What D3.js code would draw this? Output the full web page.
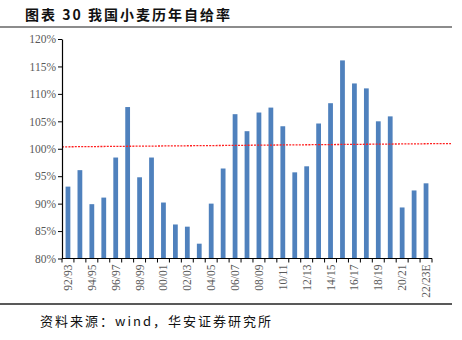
<!DOCTYPE html>
<html>
<head>
<meta charset="utf-8">
<script src="https://cdn.jsdelivr.net/npm/d3@7"></script>
<style>
  html, body { margin: 0; padding: 0; background: #fff; }
  svg { display: block; }
</style>
</head>
<body>
<svg id="chart" width="462" height="340"></svg>
<script>
// Wheat self-sufficiency ratio by marketing year (%)
const seasons = ["92/93","93/94","94/95","95/96","96/97","97/98","98/99","99/00","00/01","01/02",
  "02/03","03/04","04/05","05/06","06/07","07/08","08/09","09/10","10/11","11/12",
  "12/13","13/14","14/15","15/16","16/17","17/18","18/19","19/20","20/21","21/22","22/23E"];
const ratio = [93.1, 96.1, 89.9, 91.1, 98.4, 107.6, 94.8, 98.4, 90.2, 86.2,
  85.8, 82.7, 90.0, 96.4, 106.3, 103.2, 106.6, 107.5, 104.1, 95.7,
  96.8, 104.6, 108.3, 116.1, 111.9, 111.0, 105.0, 105.9, 89.3, 92.4, 93.7];
const yTicks = [80, 85, 90, 95, 100, 105, 110, 115, 120];
const shownLabels = ["92/93","94/95","96/97","98/99","00/01","02/03","04/05","06/07","08/09",
  "10/11","12/13","14/15","16/17","18/19","20/21","22/23E"];
// 100% reference line, value at its left and right ends
const refLine = [100.35, 100.95];

const svg = d3.select("#chart");
const m = { left: 62, right: 432, top: 39, bottom: 258.5 };

const x = d3.scaleBand().domain(seasons).range([m.left, m.right]).paddingInner(0.6).paddingOuter(0.3);
const y = d3.scaleLinear().domain([80, 120]).range([m.bottom, m.top]);

// Title
svg.append("text")
  .attr("x", 25).attr("y", 20)
  .attr("font-family", "'Noto Sans CJK SC', sans-serif")
  .attr("font-weight", "bold").attr("font-size", 14).attr("fill", "#111")
  .attr("letter-spacing", 2)
  .text("图表 30 我国小麦历年自给率");
svg.append("line")
  .attr("x1", 0).attr("x2", 452).attr("y1", 27).attr("y2", 27)
  .attr("stroke", "#8c8c8c").attr("stroke-width", 2);

// Bars
svg.append("g").selectAll("rect").data(ratio).join("rect")
  .attr("x", (d, i) => x(seasons[i]))
  .attr("width", x.bandwidth())
  .attr("y", d => y(d))
  .attr("height", d => y(80) - y(d))
  .attr("fill", "#4f81bd");

// Reference line at ~100%
svg.append("line")
  .attr("x1", m.left).attr("x2", 451)
  .attr("y1", y(refLine[0])).attr("y2", y(refLine[1]))
  .attr("stroke", "#ff2020").attr("stroke-width", 1.3)
  .attr("stroke-dasharray", "2,1.2");

// Y axis
const yAxis = svg.append("g")
  .attr("transform", `translate(${m.left},0)`)
  .call(d3.axisLeft(y).tickValues(yTicks).tickFormat(d => d + "%").tickSize(4).tickSizeOuter(0));
yAxis.select(".domain").attr("stroke", "#000").attr("stroke-width", 1.2);
yAxis.selectAll(".tick line").attr("stroke", "#000");
yAxis.selectAll("text")
  .attr("font-family", "'Liberation Serif', serif").attr("font-size", 11.5)
  .attr("fill", "#595959").attr("x", -6);

// X axis: ticks at category boundaries
const boundaries = d3.range(seasons.length + 1).map(i => m.left + (m.right - m.left) * i / seasons.length);
const xg = svg.append("g");
xg.append("line")
  .attr("x1", m.left).attr("x2", m.right).attr("y1", m.bottom).attr("y2", m.bottom)
  .attr("stroke", "#000").attr("stroke-width", 1.2);
xg.selectAll("line.tk").data(boundaries).join("line").attr("class", "tk")
  .attr("x1", d => d).attr("x2", d => d)
  .attr("y1", m.bottom).attr("y2", m.bottom + 4)
  .attr("stroke", "#000");
xg.selectAll("text").data(shownLabels).join("text")
  .attr("transform", d => `translate(${x(d) + x.bandwidth() / 2 + 4},${m.bottom + 6}) rotate(-90)`)
  .attr("text-anchor", "end")
  .attr("font-family", "'Liberation Serif', serif").attr("font-size", 11.5)
  .attr("fill", "#595959")
  .text(d => d);

// Source note
svg.append("line")
  .attr("x1", 0).attr("x2", 452).attr("y1", 304).attr("y2", 304)
  .attr("stroke", "#222").attr("stroke-width", 1.3);
svg.append("text")
  .attr("x", 40).attr("y", 326)
  .attr("font-family", "'Noto Sans CJK SC', sans-serif")
  .attr("font-size", 13).attr("fill", "#111")
  .attr("letter-spacing", 2)
  .text("资料来源：wind，华安证券研究所");
</script>
</body>
</html>
